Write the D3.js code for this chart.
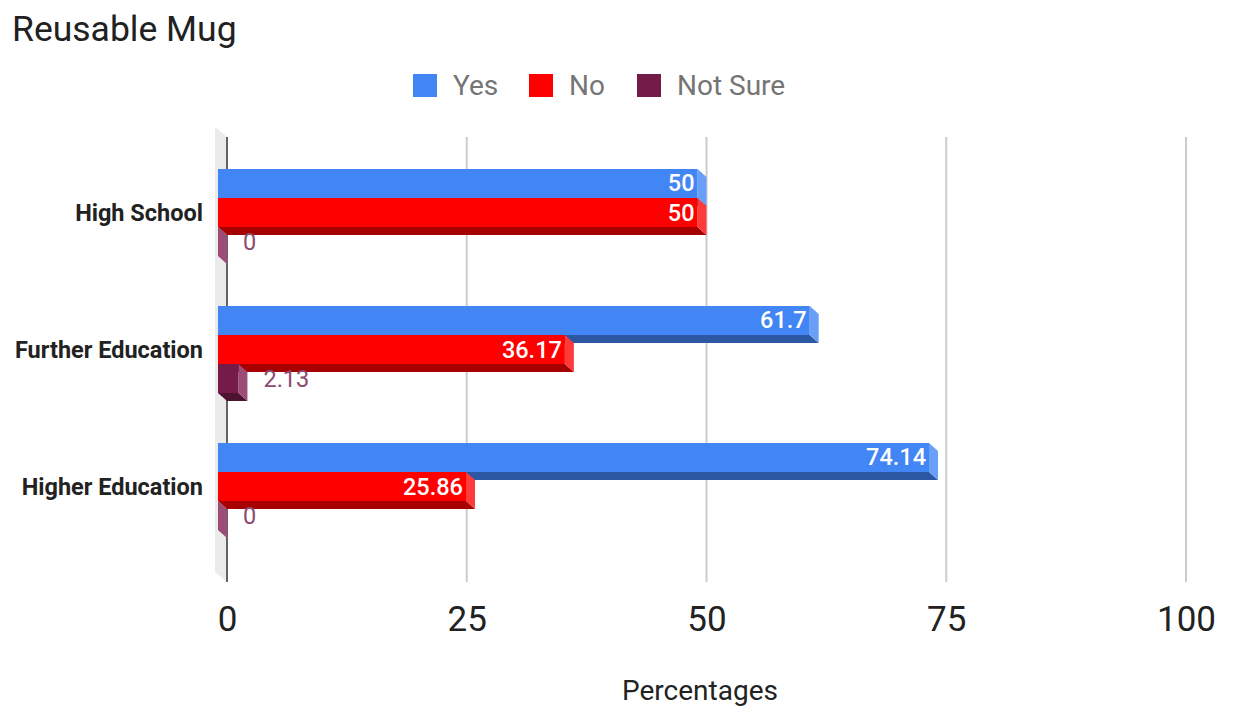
<!DOCTYPE html>
<html>
<head>
<meta charset="utf-8">
<script src="https://cdn.jsdelivr.net/npm/d3@7"></script>
<style>
  html, body { margin: 0; padding: 0; background: #fff; }
  svg { display: block; font-family: Roboto, "Noto Sans", Arial, sans-serif; }
</style>
</head>
<body>
<svg id="chart" width="1233" height="707"></svg>
<script>
// Survey answers (percent) per education level
const categories = ["High School", "Further Education", "Higher Education"];
const seriesNames = ["Yes", "No", "Not Sure"];
const yesValues = [50, 61.7, 74.14];
const noValues = [50, 36.17, 25.86];
const notSureValues = [0, 2.13, 0];
const tickValues = [0, 25, 50, 75, 100];

const seriesValues = [yesValues, noValues, notSureValues];

// colours: front face, side face, bottom face, label colour
const palette = {
  "Yes":      { front: "#4285f4", side: "#6a9ff7", bottom: "#2b57a3", label: "#ffffff" },
  "No":       { front: "#ff0000", side: "#ff3a3a", bottom: "#a60000", label: "#ffffff" },
  "Not Sure": { front: "#741b47", side: "#9c4c75", bottom: "#4d1230", label: "#8d4a6f" }
};

const svg = d3.select("#chart");

// Back plane of the 3D plot, front faces are shifted by (-dx, -dy)
const back = { left: 227, right: 1186, top: 137, bottom: 582 };
const dx = 9, dy = 8;

const x = d3.scaleLinear().domain([0, 100]).range([back.left, back.right]);
const y = d3.scaleBand().domain(categories).range([144, 555]).padding(0);
const yInner = d3.scaleBand().domain(seriesNames)
  .range([0, y.bandwidth()]).paddingInner(0).paddingOuter(0.862);

// Title
svg.append("text")
  .attr("x", 12).attr("y", 41)
  .attr("font-size", 35.5).attr("fill", "#212121")
  .text("Reusable Mug");

// Legend
const legendItems = [
  { name: "Yes", x: 413 },
  { name: "No", x: 529 },
  { name: "Not Sure", x: 637 }
];
const legend = svg.append("g");
legendItems.forEach(it => {
  legend.append("rect")
    .attr("x", it.x).attr("y", 74).attr("width", 24).attr("height", 23)
    .attr("fill", palette[it.name].front);
  legend.append("text")
    .attr("x", it.x + 40).attr("y", 95)
    .attr("font-size", 28).attr("fill", "#757575")
    .text(it.name);
});

// Side wall at the value axis
svg.append("polygon")
  .attr("points", [
    [x(0) - 12, back.top - 10], [x(0), back.top],
    [x(0), back.bottom], [x(0) - 12, back.bottom - 10]
  ].map(p => p.join(",")).join(" "))
  .attr("fill", "#ebebeb");

// Gridlines on the back plane
svg.append("g")
  .selectAll("line")
  .data(tickValues.filter(d => d !== 0))
  .join("line")
  .attr("x1", d => x(d)).attr("x2", d => x(d))
  .attr("y1", back.top).attr("y2", back.bottom)
  .attr("stroke", "#cccccc").attr("stroke-width", 2);

// Baseline
svg.append("line")
  .attr("x1", x(0)).attr("x2", x(0))
  .attr("y1", back.top).attr("y2", back.bottom)
  .attr("stroke", "#333333").attr("stroke-width", 1.5);

// Bars
const bars = svg.append("g");
categories.forEach((cat, ci) => {
  seriesNames.forEach((s, si) => {
    const v = seriesValues[si][ci];
    const c = palette[s];
    const x0 = x(0) - dx;
    const x1 = x(v) - dx;
    const y0 = y(cat) + yInner(s);
    const y1 = y0 + yInner.bandwidth();
    const g = bars.append("g");
    // bottom face
    g.append("polygon")
      .attr("points", [[x0, y1], [x1, y1], [x1 + dx, y1 + dy], [x0 + dx, y1 + dy]].map(p => p.join(",")).join(" "))
      .attr("fill", c.bottom);
    // side face
    g.append("polygon")
      .attr("points", [[x1, y0], [x1 + dx, y0 + dy], [x1 + dx, y1 + dy], [x1, y1]].map(p => p.join(",")).join(" "))
      .attr("fill", c.side);
    // front face
    g.append("rect")
      .attr("x", x0).attr("y", y0)
      .attr("width", Math.max(0, x1 - x0)).attr("height", y1 - y0)
      .attr("fill", c.front);
    // value label
    const label = String(v);
    const inside = s !== "Not Sure";
    g.append("text")
      .attr("x", inside ? x1 - 3 : x(v) + 16)
      .attr("y", (y0 + y1) / 2 + 8)
      .attr("text-anchor", inside ? "end" : "start")
      .attr("font-size", 23.5)
      .attr("font-weight", inside ? 500 : 400)
      .attr("fill", c.label)
      .text(label);
  });
});

// Category labels
svg.append("g")
  .selectAll("text")
  .data(categories)
  .join("text")
  .attr("x", 203)
  .attr("y", d => y(d) + y.bandwidth() / 2 + 8)
  .attr("text-anchor", "end")
  .attr("font-size", 23.5).attr("font-weight", 700)
  .attr("fill", "#222222")
  .text(d => d);

// Value axis tick labels
const axis = d3.axisBottom(x).tickValues(tickValues).tickSize(0).tickPadding(0);
const axisG = svg.append("g").attr("transform", `translate(0, 600)`).call(axis);
axisG.select(".domain").remove();
axisG.selectAll("text")
  .attr("font-size", 35)
  .attr("font-family", "Roboto, sans-serif")
  .attr("fill", "#222222")
  .attr("dy", "0.88em");

// Axis title
svg.append("text")
  .attr("x", 700).attr("y", 700)
  .attr("text-anchor", "middle")
  .attr("font-size", 28).attr("fill", "#222222")
  .text("Percentages");
</script>
</body>
</html>
